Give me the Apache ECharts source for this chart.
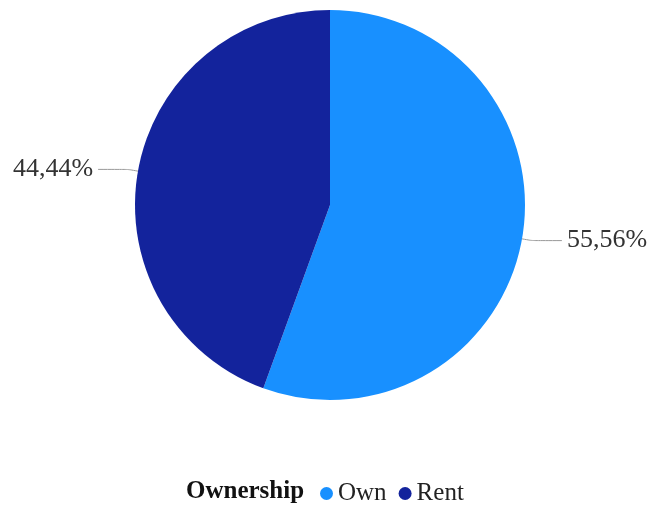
<!DOCTYPE html>
<html>
<head>
<meta charset="utf-8">
<script src="https://cdn.jsdelivr.net/npm/echarts@6/dist/echarts.min.js"></script>
<style>
  html, body { margin: 0; padding: 0; background: #fff; }
  #chart { width: 649px; height: 506px; }
</style>
</head>
<body>
<div id="chart"></div>
<script>
// Housing tenure split
const categories = ['Own', 'Rent'];
const counts = [5, 4];
const colors = ['#1890ff', '#13239c'];

const total = counts.reduce((a, b) => a + b, 0);
const fmtPct = v => (v / total * 100).toFixed(2).replace('.', ',') + '%';

const chart = echarts.init(document.getElementById('chart'));
chart.setOption({
  animation: false,
  title: {
    text: 'Ownership',
    left: 181,
    top: 474,
    textStyle: { fontFamily: 'Liberation Serif', fontSize: 25, fontWeight: 'bold', color: '#111' }
  },
  legend: {
    data: categories,
    left: 315,
    top: 476,
    icon: 'circle',
    itemWidth: 13,
    itemHeight: 13,
    itemGap: 12,
    textStyle: { fontFamily: 'Liberation Serif', fontSize: 25, color: '#222' }
  },
  series: [{
    type: 'pie',
    center: [330, 205],
    radius: 195,
    startAngle: 90,
    clockwise: true,
    color: colors,
    data: categories.map((name, i) => ({ name, value: counts[i] })),
    label: {
      show: true,
      formatter: p => fmtPct(p.value),
      fontFamily: 'Liberation Serif',
      fontSize: 26,
      color: '#333',
      overflow: 'none',
      width: 120
    },
    labelLine: {
      show: true,
      length: 10,
      length2: 30,
      smooth: 0.2,
      lineStyle: { color: '#999', width: 1 }
    },
    itemStyle: { borderWidth: 0 },
    emphasis: { disabled: true }
  }]
});
</script>
</body>
</html>
